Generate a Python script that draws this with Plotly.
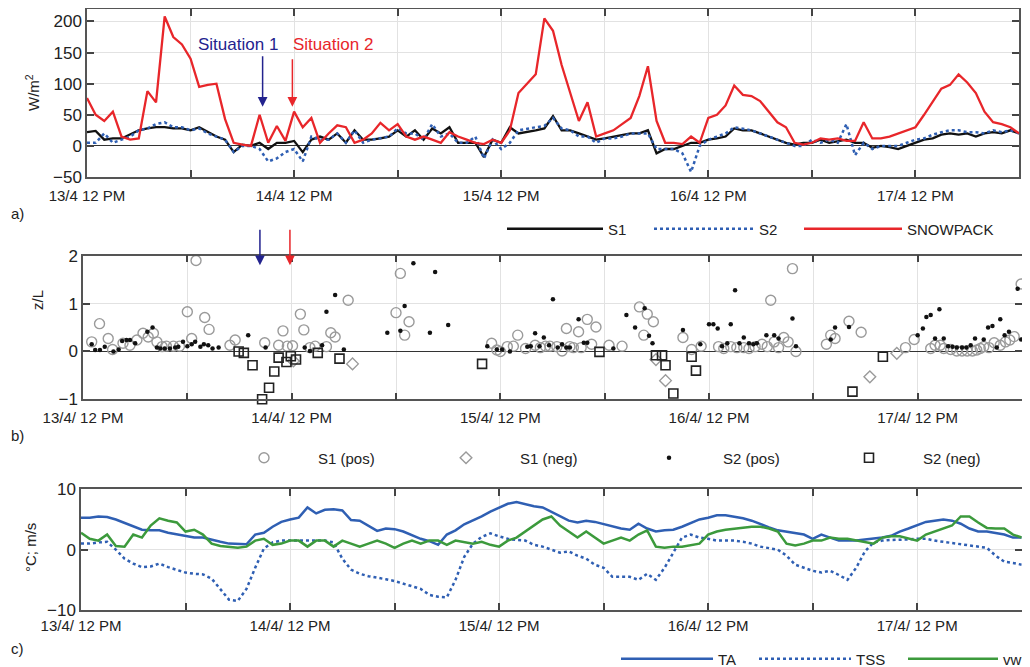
import pandas as pd
import plotly.graph_objects as go

START = pd.Timestamp("2015-04-13 12:00")

# ---------------- panel a: energy flux (W/m2), hourly from 13/4 12:00 ----------------
S1 = [22, 24, 10, 12, 12, 18, 25, 28, 30, 30, 28, 28,
      25, 30, 22, 15, 10, -10, 2, 0, 5, -5, 5, 5,
      8, -10, 10, 15, 10, 20, 5, 25, 10, 10, 12, 15,
      25, 15, 25, 10, 28, 20, 30, 5, 5, 5, -18, 10,
      5, 30, 20, 22, 25, 28, 48, 25, 25, 20, 15, 10,
      12, 15, 18, 20, 20, 25, -12, -5, -5, 0, 5, 5,
      10, 12, 15, 28, 25, 25, 20, 15, 10, 5, 2, 5,
      5, 10, 5, 8, 10, 5, 5, -3, 0, -2, -5, 0,
      5, 10, 12, 18, 20, 18, 20, 15, 20, 22, 20, 25, 20]
S2 = [5, 5, 20, 5, 10, 15, 25, 28, 35, 38, 30, 30,
      25, 28, 20, 15, 10, -10, 0, 0, -5, -25, -20, -10,
      -5, -25, 15, 10, 10, 20, 5, 25, 5, 10, 12, 15,
      28, 20, 20, 10, 35, 15, 20, 5, 5, 15, -20, 10,
      -5, 5, 25, 28, 30, 32, 45, 28, 25, 15, 15, 5,
      12, 12, 15, 20, 20, 20, -5, -5, -5, -12, -42, 0,
      10, 15, 20, 30, 28, 25, 20, 15, 10, 5, 0, 0,
      10, 5, 10, 5, 35, -15, 5, -5, 0, 0, 0, 5,
      10, 12, 18, 22, 25, 25, 22, 22, 20, 25, 22, 25, 20]
SNOWPACK = [77, 50, 40, 55, 15, 10, 12, 88, 70, 208, 175, 163,
            140, 95, 98, 100, 43, 5, 2, 0, 50, 5, 32, 8,
            55, 30, 45, 5, 20, 33, 30, 5, 10, 20, 37, 25,
            35, 15, 10, 15, 10, 5, 22, 15, 10, 5, 3, 10,
            5, 25, 85, 100, 115, 205, 185, 130, 85, 40, 70, 15,
            20, 25, 35, 45, 80, 128, 40, 5, 5, 3, 15, 5,
            45, 50, 65, 97, 82, 80, 72, 55, 38, 30, 5, 2,
            5, 12, 10, 12, 8, 8, 38, 12, 12, 15, 20, 25,
            30, 50, 72, 92, 98, 115, 102, 85, 55, 38, 35, 30, 20]

# ---------------- panel b: stability z/L (hours since 13/4 12:00, value) ----------------
S1_POS_H = [1.0, 1.9, 2.9, 3.4, 4.6, 5.4, 6.2, 6.9, 7.5, 8.1, 8.5, 9.1, 9.6, 10.4, 11.1,
            12.0, 12.5, 13.0, 14.0, 14.5, 16.9, 17.5, 20.9, 22.5, 23.0, 23.5, 24.1, 25.0,
            25.4, 26.1, 26.7, 28.0, 28.5, 29.0, 30.5, 36.0, 36.5, 37.0, 37.5, 47.0, 47.6,
            48.0, 48.8, 50.0, 49.5, 50.9, 52.0, 52.6, 53.2, 53.7, 54.5, 55.1, 55.6, 56.0,
            56.4, 57.0, 57.3, 58.0, 58.5, 59.0, 60.5, 62.0, 64.0, 64.5, 64.9, 65.6, 69.0,
            70.0, 71.1, 73.1, 73.7, 74.5, 75.2, 76.0, 76.6, 77.3, 78.1, 78.7, 79.1, 79.5,
            80.0, 80.6, 81.1, 81.6, 82.0, 85.5, 86.0, 86.5, 88.1, 89.5, 94.6, 95.6, 97.5,
            98.0, 98.6, 99.0, 99.8, 100.5, 101.1, 101.7, 102.3, 102.8, 103.2, 103.6, 104.2,
            104.8, 105.5, 106.1, 106.6, 107.1, 107.9]
S1_POS_V = [0.2, 0.58, 0.27, 0.04, 0.17, 0.13, 0.24, 0.38, 0.3, 0.38, 0.2, 0.1, 0.11, 0.11, 0.11,
            0.83, 0.27, 1.9, 0.71, 0.46, 0.13, 0.24, 0.18, 0.13, 0.43, 0.11, 0.12, 0.78,
            0.45, 0.08, 0.11, 0.1, 0.39, 0.3, 1.07, 0.81, 1.63, 0.34, 0.62, 0.17, 0.03,
            0.0, 0.1, 0.34, 0.11, 0.06, 0.13, 0.08, 0.11, 0.11, 0.1, 0.01, 0.48, 0.1,
            0.08, 0.41, 0.08, 0.67, 0.15, 0.51, 0.13, 0.11, 0.93, 0.34, 0.78, 0.62, 0.29,
            0.04, 0.11, 0.1, 0.06, 0.1, 0.08, 0.08, 0.06, 0.1, 0.15, 0.1, 1.07, 0.2,
            0.08, 0.29, 0.2, 1.73, 0.0, 0.15, 0.34, 0.27, 0.63, 0.4, 0.08, 0.25, 0.06,
            0.13, 0.13, 0.06, 0.04, 0.01, 0.01, 0.01, 0.01, 0.03, 0.06, 0.1, 0.08,
            0.18, 0.13, 0.2, 0.24, 0.31, 1.41]
S1_NEG_H = [24.2, 31.0, 65.9, 67.0, 90.5, 93.6]
S1_NEG_V = [-0.2, -0.26, -0.17, -0.61, -0.53, -0.04]
S2_POS_H = [1.0, 1.4, 1.95, 2.5, 3.5, 4.1, 4.5, 5.0, 5.4, 6.0, 7.4, 8.0, 8.5, 8.9, 9.4,
            10.0, 10.6, 10.96, 11.5, 12.0, 12.5, 12.9, 13.5, 13.9, 14.4, 14.9, 15.6, 19.0,
            21.0, 25.5, 26.1, 27.5, 28.0, 29.0, 30.0, 35.0, 36.5, 36.99, 38.0, 39.9, 40.5,
            42.0, 46.5, 47.6, 48.2, 49.1, 51.1, 51.5, 52.0, 52.5, 53.0, 53.6, 54.05, 54.6,
            55.1, 55.6, 56.0, 57.0, 57.6, 58.0, 61.0, 62.5, 63.5, 64.6, 65.1, 65.5, 69.0,
            71.0, 72.0, 72.5, 73.0, 73.5, 74.1, 74.5, 75.0, 75.5, 76.0, 76.6, 77.1, 77.5,
            78.6, 79.5, 80.0, 81.6, 82.0, 86.0, 86.5, 88.1, 96.0, 96.6, 97.0, 97.5, 98.0,
            98.5, 99.0, 99.5, 100.0, 100.5, 101.1, 101.6, 102.1, 102.6, 103.6, 104.1, 104.6,
            105.1, 105.5, 106.0, 106.5, 107.5, 107.9]
S2_POS_V = [0.15, 0.03, 0.03, 0.1, 0.0, 0.04, 0.22, 0.24, 0.24, 0.17, 0.41, 0.5, 0.08, 0.06, 0.06,
            0.06, 0.08, 0.1, 0.2, 0.11, 0.15, 0.2, 0.1, 0.15, 0.13, 0.06, 0.08, 0.34,
            0.08, 0.08, 0.01, 0.13, 0.83, 1.18, 0.04, 0.39, 0.43, 0.95, 1.84, 0.39, 1.66,
            0.55, 0.11, 0.04, 0.04, 0.0, 0.1, 0.11, 0.38, 0.11, 0.29, 0.13, 1.09, 0.08,
            0.15, 0.08, 0.08, 0.67, 0.18, 0.18, 0.06, 0.76, 0.5, 0.9, 0.33, 0.17, 0.45,
            0.15, 0.57, 0.57, 0.48, 0.11, 0.17, 0.57, 1.28, 0.17, 0.29, 0.17, 0.15, 0.17,
            0.34, 0.34, 0.27, 0.69, 0.11, 0.25, 0.5, 0.51, 0.34, 0.48, 0.72, 0.76, 0.27,
            0.88, 0.27, 0.11, 0.1, 0.08, 0.08, 0.08, 0.13, 0.27, 0.25, 0.5, 0.53,
            0.08, 0.67, 0.34, 0.41, 1.31, 0.25]
S2_NEG_H = [17.9, 18.5, 19.5, 20.6, 21.4, 22.0, 22.5, 23.4, 23.9, 24.5, 27.0, 29.5, 45.9,
            59.4, 65.9, 66.6, 67.0, 67.9, 70.0, 70.5, 88.5, 92.0]
S2_NEG_V = [0.0, -0.03, -0.29, -1.0, -0.76, -0.42, -0.13, -0.22, -0.1, -0.17, -0.03, -0.15, -0.26,
            -0.01, -0.08, -0.08, -0.29, -0.88, -0.11, -0.4, -0.84, -0.11]

# ---------------- panel c: meteorology, hourly ----------------
TA = [5.3, 5.3, 5.5, 5.4, 5.0, 4.4, 3.9, 3.3, 3.2, 3.2, 2.8, 2.5,
      2.2, 2.0, 2.0, 1.6, 1.3, 1.0, 0.9, 0.9, 2.5, 2.8, 3.8, 4.6,
      5.0, 5.3, 7.0, 6.0, 6.6, 6.7, 6.5, 4.9, 4.8, 4.0, 3.1, 3.5,
      3.4, 3.0, 2.4, 1.8, 1.4, 0.8, 2.5, 3.2, 4.2, 4.8, 5.5, 6.3,
      7.0, 7.6, 7.9, 7.5, 7.2, 7.0, 6.3, 5.6, 4.8, 4.5, 4.8, 4.6,
      4.2, 3.8, 3.5, 3.3, 4.3, 3.5, 3.0, 3.2, 3.3, 3.8, 4.4, 5.0,
      5.3, 5.7, 5.7, 5.5, 5.2, 4.8, 4.2, 3.7, 3.2, 3.0, 2.8, 2.5,
      1.8, 2.5, 2.0, 1.5, 1.5, 1.5, 1.7, 1.8, 2.0, 2.3, 3.0, 3.5,
      4.0, 4.6, 4.8, 5.0, 4.8, 4.3, 3.5, 3.0, 3.0, 2.8, 2.5, 2.0, 2.0]
TSS = [1.0, 1.0, 1.2, 1.3, 0.0, -1.5, -2.3, -2.9, -2.8, -2.3, -2.9, -3.3,
       -3.8, -4.0, -4.1, -4.8, -6.5, -8.3, -8.5, -6.5, -3.0, 0.2, 1.2, 1.5,
       1.5, 1.5, 1.5, 1.5, 1.5, 1.2, -1.5, -3.3, -4.0, -4.4, -4.6, -4.9,
       -5.2, -5.6, -6.0, -6.5, -7.5, -7.8, -7.9, -5.0, -1.2, 1.0, 2.1, 2.7,
       2.2, 1.8, 1.6, 1.5, 0.8, 0.5, 0.0, -0.5, -0.3, -1.0, -1.5, -2.5,
       -3.0, -4.5, -4.5, -4.5, -5.0, -4.0, -5.0, -3.0, -0.5, 2.0, 2.5, 2.0,
       1.8, 1.5, 1.5, 1.5, 1.3, 1.0, 0.5, 0.3, 0.0, -1.0, -2.5, -3.0,
       -3.5, -3.8, -3.5, -4.2, -5.0, -3.0, -0.3, 1.2, 1.5, 1.6, 1.6, 1.7,
       1.8, 1.8, 1.5, 1.3, 1.1, 0.9, 0.6, 0.5, 0.3, -1.0, -2.0, -2.2, -2.5]
VW = [2.8, 1.8, 1.5, 2.5, 0.6, 0.5, 2.5, 2.0, 4.0, 5.2, 4.8, 4.5,
      3.0, 3.3, 2.5, 1.0, 0.6, 0.4, 0.3, 0.5, 1.5, 1.8, 0.8, 1.0,
      1.5, 1.5, 0.5, 1.5, 1.5, 0.5, 1.5, 1.0, 0.5, 1.0, 1.5, 1.0,
      0.3, 1.0, 1.5, 1.0, 1.5, 1.5, 0.8, 1.5, 1.2, 1.0, 1.3, 0.8,
      0.5, 1.5, 2.0, 3.0, 4.0, 5.0, 5.5, 4.0, 3.0, 2.0, 3.0, 2.0,
      1.0, 1.5, 2.0, 1.5, 2.5, 3.2, 0.5, 0.3, 0.5, 0.5, 0.8, 1.0,
      2.5, 3.0, 3.3, 3.5, 3.6, 3.8, 3.8, 3.5, 3.0, 1.0, 0.7, 1.0,
      1.5, 1.5, 2.0, 1.8, 1.8, 1.5, 1.2, 1.0, 2.0, 2.2, 2.2, 1.8,
      1.5, 2.5, 3.0, 3.5, 4.0, 5.5, 5.5, 4.5, 3.6, 3.5, 3.5, 2.5, 2.0]

TICK_HOURS = list(range(0, 109, 12))
TICK_TEXT_A = ["13/4 12 PM", "", "14/4 12 PM", "", "15/4 12 PM", "", "16/4 12 PM", "", "17/4 12 PM", ""]
TICK_TEXT_BC = ["13/4/ 12 PM", "", "14/4/ 12 PM", "", "15/4/ 12 PM", "", "16/4/ 12 PM", "", "17/4/ 12 PM", ""]
SIT_HOURS = [20.35, 23.8]


def t(hs):
    return [START + pd.Timedelta(hours=float(h)) for h in hs]


# page has an 8px body margin: the figure's own origin sits at page (8, 8)
OFF = 8
W, Hh = 1030 - OFF, 667 - OFF


def fx(p):
    return (p - OFF) / W


def fy(p):
    return 1 - (p - OFF) / Hh


H = list(range(len(S1)))
FONT = "Liberation Sans, Arial, sans-serif"
BLUE = "#2f5fb3"
RED = "#e8262a"
GREEN = "#3c9a3c"
NAVY = "#23238e"

fig = go.Figure()
# panel a
fig.add_trace(go.Scatter(x=t(H), y=S1, mode="lines", name="S1", line=dict(color="#111111", width=2.3),
                         xaxis="x", yaxis="y", legend="legend"))
fig.add_trace(go.Scatter(x=t(H), y=S2, mode="lines", name="S2", line=dict(color=BLUE, width=2.5, dash="dot"),
                         xaxis="x", yaxis="y", legend="legend2"))
fig.add_trace(go.Scatter(x=t(H), y=SNOWPACK, mode="lines", name="SNOWPACK", line=dict(color=RED, width=2.3),
                         xaxis="x", yaxis="y", legend="legend3"))
# panel b
fig.add_trace(go.Scatter(x=t(S1_POS_H), y=S1_POS_V, mode="markers", name="S1 (pos)",
                         marker=dict(symbol="circle-open", size=10, color="#9a9a9a", line=dict(width=1.4)),
                         xaxis="x2", yaxis="y2", legend="legend4", cliponaxis=False))
fig.add_trace(go.Scatter(x=t(S1_NEG_H), y=S1_NEG_V, mode="markers", name="S1 (neg)",
                         marker=dict(symbol="diamond-open", size=9, color="#9a9a9a", line=dict(width=1.4)),
                         xaxis="x2", yaxis="y2", legend="legend5"))
fig.add_trace(go.Scatter(x=t(S2_POS_H), y=S2_POS_V, mode="markers", name="S2 (pos)",
                         marker=dict(symbol="circle", size=4.5, color="#111111"),
                         xaxis="x2", yaxis="y2", legend="legend6", cliponaxis=False))
fig.add_trace(go.Scatter(x=t(S2_NEG_H), y=S2_NEG_V, mode="markers", name="S2 (neg)",
                         marker=dict(symbol="square-open", size=9, color="#222222", line=dict(width=1.6)),
                         xaxis="x2", yaxis="y2", legend="legend7", cliponaxis=False))
# panel c
fig.add_trace(go.Scatter(x=t(H), y=TA, mode="lines", name="TA", line=dict(color=BLUE, width=2.5),
                         xaxis="x3", yaxis="y3", legend="legend8"))
fig.add_trace(go.Scatter(x=t(H), y=TSS, mode="lines", name="TSS", line=dict(color=BLUE, width=2.5, dash="dot"),
                         xaxis="x3", yaxis="y3", legend="legend9"))
fig.add_trace(go.Scatter(x=t(H), y=VW, mode="lines", name="vw", line=dict(color=GREEN, width=2.5),
                         xaxis="x3", yaxis="y3", legend="legend10"))


def xax(p0, p1, anchor, labels, standoff):
    return dict(domain=[fx(p0), fx(p1)], anchor=anchor, type="date",
                range=[START, START + pd.Timedelta(hours=108)],
                tickmode="array", tickvals=t(TICK_HOURS), ticktext=labels,
                ticks="inside", ticklen=7, tickwidth=1.5, tickcolor="#444",
                showline=True, linecolor="#555", linewidth=1.5, mirror="ticks",
                showgrid=True, gridcolor="#e2e2e2", gridwidth=1, zeroline=False,
                ticklabelstandoff=standoff, tickfont=dict(size=15, color="#222"))


def yax(ptop, pbot, anchor, rng, tv, zl=True):
    return dict(domain=[fy(pbot), fy(ptop)], anchor=anchor, range=rng, tickmode="array", tickvals=tv,
                ticks="inside", ticklen=7, tickwidth=1.5, tickcolor="#444",
                showline=True, linecolor="#555", linewidth=1.5, mirror="ticks",
                showgrid=True, gridcolor="#e2e2e2", gridwidth=1,
                zeroline=zl, zerolinecolor="#333", zerolinewidth=1.2,
                tickfont=dict(size=17, color="#222"))


def leg(px, py, iw):
    return dict(orientation="h", x=fx(px), y=fy(py), xanchor="left", yanchor="middle",
                itemwidth=iw, font=dict(size=15, color="#222"), bgcolor="rgba(0,0,0,0)")


fig.update_layout(
    width=W, height=Hh, margin=dict(l=0, r=0, t=0, b=0, autoexpand=False),
    paper_bgcolor="white", plot_bgcolor="white",
    font=dict(family=FONT, size=15, color="#222"),
    xaxis=xax(87, 1019, "y", TICK_TEXT_A, 4),
    yaxis=yax(9, 177, "x", [-50, 220], [-50, 0, 50, 100, 150, 200]),
    xaxis2=xax(83, 1022, "y2", TICK_TEXT_BC, 4),
    yaxis2=yax(255.7, 399.3, "x2", [-1, 2], [-1, 0, 1, 2]),
    xaxis3=xax(81, 1021.7, "y3", TICK_TEXT_BC, 1),
    yaxis3=yax(489.3, 610, "x3", [-10, 10], [-10, 0, 10], zl=False),
    legend=leg(502, 229, 96),
    legend2=leg(649, 229, 100),
    legend3=leg(799, 229, 98),
    legend4=leg(210, 458, 98),
    legend5=leg(412, 458, 98),
    legend6=leg(615, 458, 98),
    legend7=leg(815, 458, 98),
    legend8=leg(616, 659, 92),
    legend9=leg(754, 659, 92),
    legend10=leg(903, 659, 90),
    showlegend=True,
)

ann = []
for lab, py in [("a)", 213), ("b)", 436), ("c)", 648)]:
    ann.append(dict(text=lab, x=fx(9), y=fy(py), xref="paper", yref="paper", xanchor="left",
                    yanchor="middle", showarrow=False, font=dict(size=15)))
for lab, px, py in [("W/m<sup>2</sup>", 33, 93), ("z/L", 38, 300), ("°C; m/s", 30, 548)]:
    ann.append(dict(text=lab, x=fx(px), y=fy(py), xref="paper", yref="paper", textangle=-90,
                    xanchor="center", yanchor="middle", showarrow=False, font=dict(size=15)))
ann.append(dict(text="Situation 1", x=fx(238), y=fy(44), xref="paper", yref="paper", showarrow=False,
                xanchor="center", yanchor="middle", font=dict(size=17, color=NAVY)))
ann.append(dict(text="Situation 2", x=fx(333), y=fy(44), xref="paper", yref="paper", showarrow=False,
                xanchor="center", yanchor="middle", font=dict(size=17, color=RED)))
for hr, col, tail in [(SIT_HOURS[0], NAVY, -52), (SIT_HOURS[1], RED, -49)]:
    ann.append(dict(x=t([hr])[0], y=63, xref="x", yref="y", text="", showarrow=True, ax=0, ay=tail,
                    arrowhead=2, arrowsize=1.3, arrowwidth=1.5, arrowcolor=col))
    ann.append(dict(x=t([hr])[0], y=1.8, xref="x2", yref="y2", text="", showarrow=True, ax=0, ay=-37,
                    arrowhead=2, arrowsize=1.3, arrowwidth=1.5, arrowcolor=col))
fig.update_layout(annotations=ann)

fig.write_html("out.html")
